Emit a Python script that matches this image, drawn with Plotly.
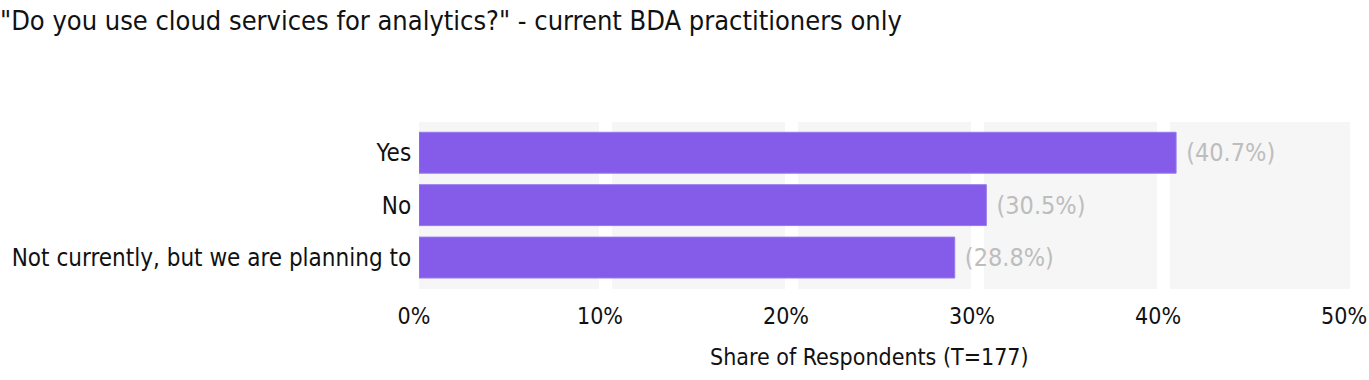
import plotly.graph_objects as go

categories = ["Yes", "No", "Not currently, but we are planning to"]
values = [40.7, 30.5, 28.8]
tick_vals = [0, 10, 20, 30, 40, 50]
tick_text = ["0%", "10%", "20%", "30%", "40%", "50%"]

FONT = "DejaVu Sans Condensed, Liberation Sans Narrow, sans-serif"

fig = go.Figure()
fig.add_trace(go.Bar(
    x=values,
    y=categories,
    orientation="h",
    width=0.78,
    marker=dict(color="rgba(126,82,232,0.95)", line=dict(color="rgba(150,120,240,1)", width=1)),
    text=[f"\u00a0({v:.1f}%)" for v in values],
    textposition="outside",
    textfont=dict(family=FONT, size=25, color="#bdbdbd"),
    cliponaxis=False,
    hoverinfo="skip",
))

fig.add_annotation(
    text="Share of Respondents (T=177)",
    xref="paper", yref="paper", x=0.484, y=-0.407,
    xanchor="center", yanchor="middle", showarrow=False,
    font=dict(family=FONT, size=23, color="#111111"),
)

fig.update_layout(
    width=1369,
    height=380,
    margin=dict(l=419, r=19, t=122, b=91),
    paper_bgcolor="white",
    plot_bgcolor="#f6f6f6",
    showlegend=False,
    font=dict(family=FONT, color="#111111"),
    title=dict(
        text='"Do you use cloud services for analytics?" - current BDA practitioners only',
        x=0, xref="container", xanchor="left",
        y=0.947, yref="container", yanchor="middle",
        font=dict(family=FONT, size=27, color="#111111"),
        pad=dict(l=0),
    ),
    xaxis=dict(
        range=[0, 50.05],
        tickvals=tick_vals,
        ticktext=tick_text,
        showgrid=True,
        gridcolor="white",
        gridwidth=13,
        zeroline=False,
        showline=False,
        ticks="",
        automargin=False,
        ticklabelstandoff=11,
        ticklabelshift=-5,
        ticklabeloverflow="allow",
        tickfont=dict(family=FONT, size=23, color="#111111"),
    ),
    yaxis=dict(
        categoryorder="array",
        categoryarray=categories,
        range=[2.6, -0.586],
        showgrid=False,
        zeroline=False,
        showline=False,
        ticks="",
        ticksuffix=" ",
        automargin=False,
        tickfont=dict(family=FONT, size=24, color="#111111"),
    ),
)

fig.write_html("out.html", config={"displayModeBar": False},
               post_script="document.body.style.margin='0';")
